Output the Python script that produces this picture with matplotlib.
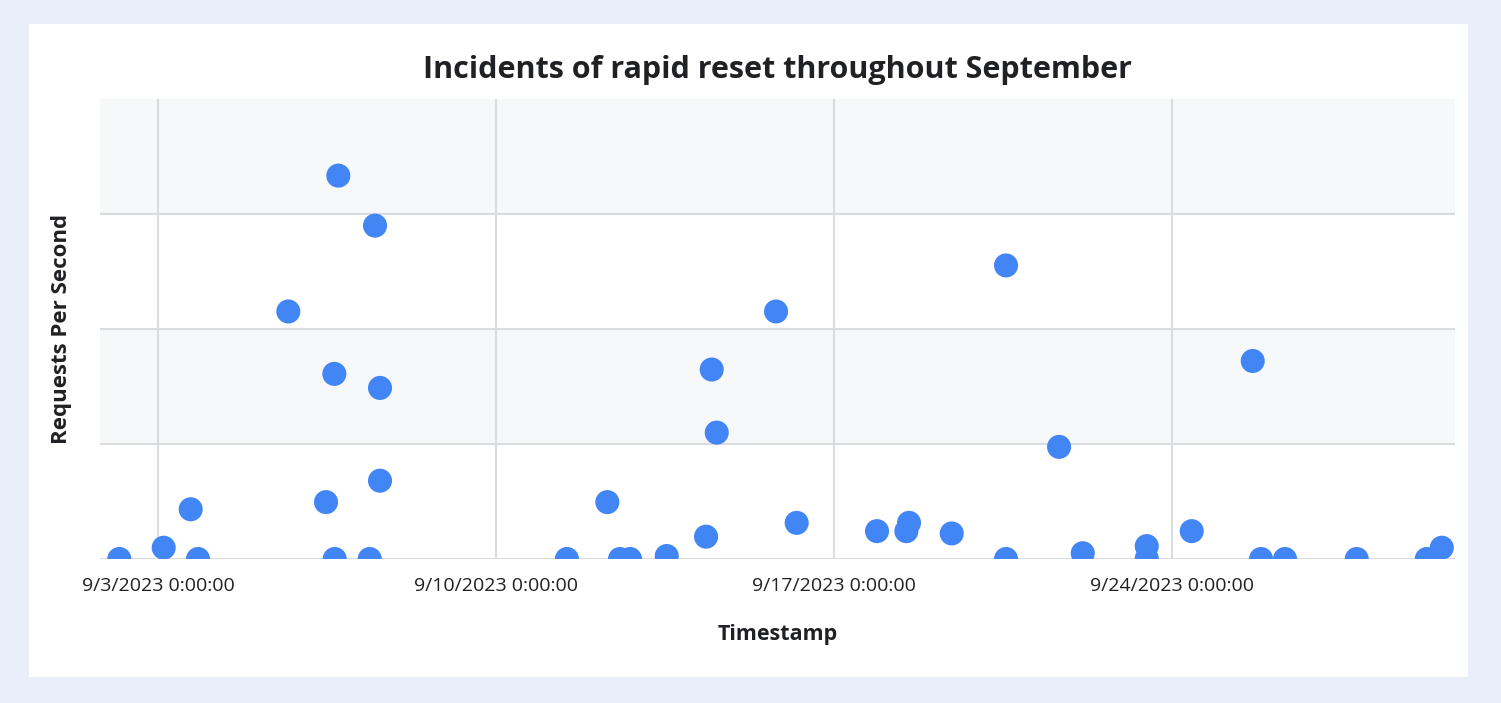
import matplotlib
matplotlib.use("Agg")
import matplotlib.pyplot as plt
from matplotlib.patches import Rectangle
import pandas as pd

# ---- data ----
timestamps = [
    "2023-09-02 04:36", "2023-09-03 02:41", "2023-09-03 16:06", "2023-09-03 19:45",
    "2023-09-05 16:39", "2023-09-06 11:24", "2023-09-06 15:32", "2023-09-06 15:43",
    "2023-09-06 17:31", "2023-09-07 09:07", "2023-09-07 11:46", "2023-09-07 14:15",
    "2023-09-07 14:15", "2023-09-11 11:12", "2023-09-12 07:18", "2023-09-12 13:36",
    "2023-09-12 18:35", "2023-09-13 12:50", "2023-09-14 08:23", "2023-09-14 11:12",
    "2023-09-14 13:42", "2023-09-15 19:12", "2023-09-16 05:28", "2023-09-17 21:24",
    "2023-09-18 12:00", "2023-09-18 13:19", "2023-09-19 10:34", "2023-09-20 13:34",
    "2023-09-20 13:34", "2023-09-21 15:56", "2023-09-22 03:43", "2023-09-23 11:33",
    "2023-09-23 11:33", "2023-09-24 09:55", "2023-09-25 16:15", "2023-09-25 20:23",
    "2023-09-26 08:18", "2023-09-27 19:58", "2023-09-29 06:48", "2023-09-29 14:15",
]
requests_per_second = [
    0.0, 4.9, 21.6, 0.0,
    107.5, 24.7, 80.4, 0.0,
    166.5, 0.0, 144.8, 74.3,
    34.0, 0.0, 24.7, 0.0,
    0.0, 1.3, 9.7, 82.3,
    54.9, 107.5, 15.7, 12.1,
    12.1, 15.7, 11.1, 127.5,
    0.0, 48.7, 2.5, 5.6,
    0.2, 12.1, 86.0, 0.0,
    0.0, 0.0, 0.0, 4.9,
]
x_ticks = ["2023-09-03", "2023-09-10", "2023-09-17", "2023-09-24"]
x_tick_labels = ["9/3/2023 0:00:00", "9/10/2023 0:00:00", "9/17/2023 0:00:00", "9/24/2023 0:00:00"]
y_gridlines = [50, 100, 150, 200]
x_range = ["2023-09-01 19:00", "2023-09-29 20:50"]
y_range = [0, 200]

title = "Incidents of rapid reset throughout September"
x_label = "Timestamp"
y_label = "Requests Per Second"

# ---- style ----
FONT = ["Open Sans", "DejaVu Sans"]
plt.rcParams["font.family"] = FONT
TEXT = "#202124"
GRID = "#dadce0"
BAND = "#f7f8fa"
DOT = "#4285f4"

W, H = 1501, 703
fig = plt.figure(figsize=(W / 100, H / 100), dpi=100, facecolor="#e8effb")
fig.patches.append(Rectangle((29 / W, 26 / H), 1439 / W, 653 / H,
                             transform=fig.transFigure, facecolor="white",
                             edgecolor="none", zorder=-10))

ax = fig.add_axes([100 / W, 144 / H, 1355 / W, 460.5 / H])
ax.set_facecolor("white")
ax.set_zorder(1)

t = pd.to_datetime(timestamps)
xt = pd.to_datetime(x_ticks)
xr = pd.to_datetime(x_range)

# alternating bands
for i in range(len(y_gridlines)):
    lo = y_range[0] if i == 0 else y_gridlines[i - 1]
    hi = y_gridlines[i]
    if i % 2 == 1:
        ax.axhspan(lo, hi, color=BAND, zorder=0, lw=0)

for yv in [0] + y_gridlines:
    ax.axhline(yv, color=GRID, lw=1.5, zorder=1)
for xv in xt:
    ax.axvline(xv, color=GRID, lw=1.5, zorder=1)

ax.scatter(t, requests_per_second, s=300, color=DOT, edgecolors="none",
           zorder=3, clip_on=True)

ax.set_xlim(xr[0], xr[1])
ax.set_ylim(*y_range)
ax.set_xticks(xt)
ax.set_xticklabels(x_tick_labels, fontsize=14, color=TEXT)
ax.set_yticks([])
ax.tick_params(axis="x", length=0, pad=13)
for s in ax.spines.values():
    s.set_visible(False)

ax.set_title(title, fontsize=22, fontweight="bold", color=TEXT, pad=15)
ax.set_xlabel(x_label, fontsize=15.5, fontweight="bold", color=TEXT, labelpad=21)
ax.set_ylabel(y_label, fontsize=16, fontweight="bold", color=TEXT, labelpad=20)

fig.savefig("out.png", dpi=100, facecolor=fig.get_facecolor())
